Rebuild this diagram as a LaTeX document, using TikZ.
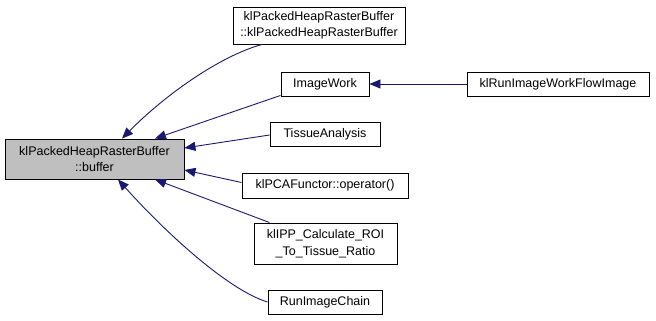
\documentclass[tikz,border=0pt]{standalone}
\usepackage{fontspec}
\setmainfont{Liberation Sans}
\usetikzlibrary{arrows.meta}
\definecolor{edgeblue}{HTML}{191970}
\definecolor{focusgray}{HTML}{BFBFBF}
\tikzset{
  box/.style={draw=black, line width=0.9pt, fill=white, inner sep=0pt,
    align=center, font=\fontsize{12.5}{16.5}\selectfont},
  focus/.style={box, fill=focusgray},
  edge/.style={draw=edgeblue, line width=0.9pt,
    -{Triangle[length=11pt,width=9pt]}},
}
\begin{document}
\begin{tikzpicture}[x=1pt,y=-1pt]
  \useasboundingbox (0,0) rectangle (656,321);
  % focus function
  \node[focus, minimum width=179pt, minimum height=40pt] (main) at (94.5,159)
    {klPackedHeapRasterBuffer\\::buffer};
  % callers
  \node[box, minimum width=172pt, minimum height=37pt] (ctor) at (319,25.5)
    {klPackedHeapRasterBuffer\\::klPackedHeapRasterBuffer};
  \node[box, minimum width=88pt, minimum height=24pt] (imgwork) at (325,84)
    {ImageWork};
  \node[box, minimum width=182pt, minimum height=24pt] (runflow) at (558,84)
    {klRunImageWorkFlowImage};
  \node[box, minimum width=110pt, minimum height=24pt] (tissue) at (325,134)
    {TissueAnalysis};
  \node[box, minimum width=166pt, minimum height=25pt] (pca) at (325,185.5)
    {klPCAFunctor::operator()};
  \node[box, minimum width=143pt, minimum height=41pt] (iipp) at (325.5,243.5)
    {klIPP\_Calculate\_ROI\\\_To\_Tissue\_Ratio};
  \node[box, minimum width=114pt, minimum height=24pt] (chain) at (325,302)
    {RunImageChain};
  % call edges
  \draw[edge] (runflow.west) -- (imgwork.east);
  \draw[edge] ([xshift=-57pt]ctor.south) .. controls (220,56) and (165,95)
    .. ([xshift=27.5pt]main.north);
  \draw[edge] ([yshift=1pt]imgwork.south west) -- ([xshift=60.5pt]main.north);
  \draw[edge] ([yshift=-1pt]tissue.west) -- ([yshift=11pt]main.east);
  \draw[edge] ([yshift=3pt]pca.west) -- ([yshift=-11pt]main.east);
  \draw[edge] ([xshift=16pt]iipp.north west) -- ([xshift=60.5pt]main.south);
  \draw[edge] (chain.west) .. controls (228,290) and (165,232)
    .. ([xshift=23.5pt]main.south);
\end{tikzpicture}
\end{document}
